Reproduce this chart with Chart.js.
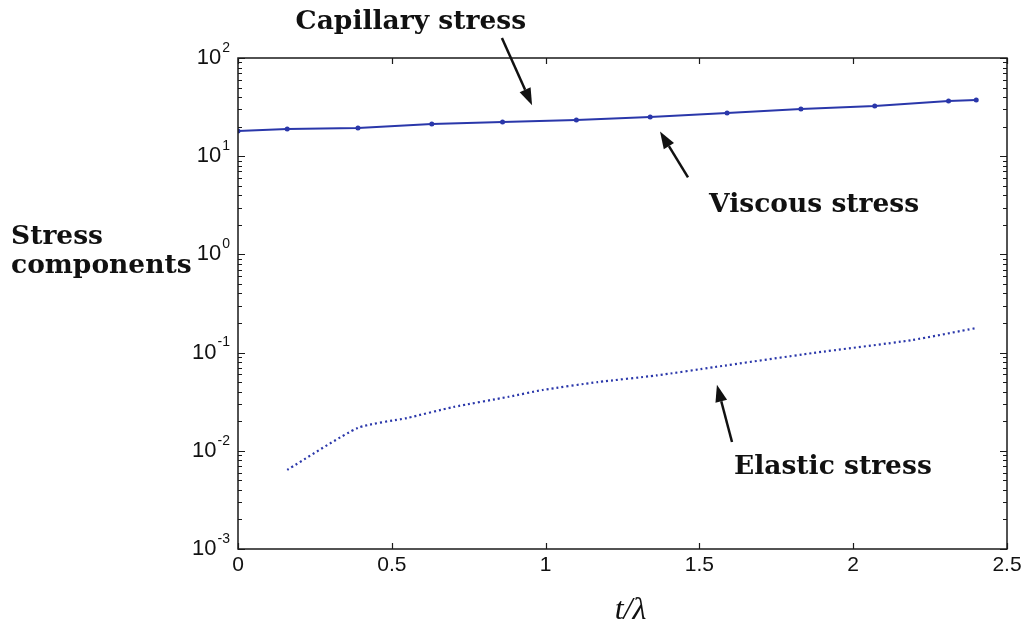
<!DOCTYPE html>
<html>
<head>
<meta charset="utf-8">
<script src="https://cdn.jsdelivr.net/npm/chart.js@4.4.1/dist/chart.umd.min.js"></script>
<style>
  html, body { margin: 0; padding: 0; background: #fff; }
  #wrap { width: 1027px; height: 628px; }
</style>
</head>
<body>
<div id="wrap"><canvas id="stressChart" width="1027" height="628"></canvas></div>
<script>
// values (t/lambda vs stress, log scale)
const tViscous = [0, 0.16, 0.39, 0.63, 0.86, 1.1, 1.34, 1.59, 1.83, 2.07, 2.31, 2.4];
const viscous = [18.1, 18.9, 19.4, 21.3, 22.3, 23.4, 25.1, 27.5, 30.2, 32.5, 36.5, 37.4];

const tElastic = [0.16, 0.39, 0.55, 0.7, 0.88, 0.99, 1.17, 1.36, 1.55, 1.87, 2.19, 2.4];
const elastic = [0.0064, 0.0171, 0.0216, 0.0279, 0.0355, 0.0416, 0.0501, 0.0585, 0.0713, 0.0991, 0.134, 0.178];

const xTicks = [0, 0.5, 1, 1.5, 2, 2.5];
const yExponents = [-3, -2, -1, 0, 1, 2];

// annotation text anchors and arrows, in data units
const notes = [
  { text: 'Capillary stress', x: 0.562, y: 230, tail: [0.858, 160], tip: [0.956, 33] },
  { text: 'Viscous stress', x: 1.873, y: 3.2, tail: [1.463, 6.1], tip: [1.372, 17.8] },
  { text: 'Elastic stress', x: 1.934, y: 0.0068, tail: [1.606, 0.0123], tip: [1.557, 0.047] }
];

const lineColor = '#2a37aa';
const serifFont = 'bold 26.5px "DejaVu Serif", serif';

function toPts(xs, ys) {
  return xs.map((x, i) => ({ x: x, y: ys[i] }));
}

const overlay = {
  id: 'overlay',
  afterDraw(chart) {
    const ctx = chart.ctx;
    const a = chart.chartArea;
    const x = chart.scales.x;
    const y = chart.scales.y;
    ctx.save();

    // axes box
    ctx.strokeStyle = '#1a1a1a';
    ctx.lineWidth = 1.5;
    ctx.strokeRect(a.left, a.top, a.right - a.left, a.bottom - a.top);

    // inward ticks
    ctx.lineWidth = 1.2;
    ctx.beginPath();
    xTicks.forEach(v => {
      const px = Math.round(x.getPixelForValue(v)) + 0.5;
      ctx.moveTo(px, a.bottom); ctx.lineTo(px, a.bottom - 6);
      ctx.moveTo(px, a.top); ctx.lineTo(px, a.top + 6);
    });
    yExponents.forEach(e => {
      for (let m = 1; m <= 9; m++) {
        const v = m * Math.pow(10, e);
        if (v > y.max * 1.0001) break;
        const py = Math.round(y.getPixelForValue(v)) + 0.5;
        const len = m === 1 ? 7 : 4;
        ctx.moveTo(a.left, py); ctx.lineTo(a.left + len, py);
        ctx.moveTo(a.right, py); ctx.lineTo(a.right - len, py);
      }
    });
    ctx.stroke();

    // y tick labels 10^n
    ctx.fillStyle = '#111';
    ctx.textBaseline = 'middle';
    yExponents.forEach(e => {
      const py = y.getPixelForValue(Math.pow(10, e));
      const sup = String(e);
      ctx.font = '14px "Liberation Sans", Arial, sans-serif';
      const ws = ctx.measureText(sup).width;
      const right = a.left - 8;
      ctx.textAlign = 'left';
      ctx.fillText(sup, right - ws, py - 10);
      ctx.font = '22px "Liberation Sans", Arial, sans-serif';
      ctx.textAlign = 'right';
      ctx.fillText('10', right - ws - 1, py);
    });

    // y title
    ctx.font = serifFont;
    ctx.textAlign = 'left';
    ctx.fillStyle = '#111';
    ctx.fillText('Stress', 11, 237);
    ctx.fillText('components', 11, 266);

    // x title
    ctx.font = 'italic 32px "Liberation Serif", serif';
    ctx.textAlign = 'center';
    ctx.fillText('t/\u03bb', (a.left + a.right) / 2 + 8, 611);

    // annotations
    notes.forEach(n => {
      ctx.font = serifFont;
      ctx.textAlign = 'center';
      ctx.fillStyle = '#111';
      ctx.fillText(n.text, x.getPixelForValue(n.x), y.getPixelForValue(n.y));
      const x0 = x.getPixelForValue(n.tail[0]), y0 = y.getPixelForValue(n.tail[1]);
      const x1 = x.getPixelForValue(n.tip[0]), y1 = y.getPixelForValue(n.tip[1]);
      const ang = Math.atan2(y1 - y0, x1 - x0);
      const hl = 17, hw = 6;
      const bx = x1 - hl * Math.cos(ang), by = y1 - hl * Math.sin(ang);
      ctx.strokeStyle = '#111';
      ctx.lineWidth = 2.5;
      ctx.beginPath();
      ctx.moveTo(x0, y0); ctx.lineTo(bx, by);
      ctx.stroke();
      ctx.beginPath();
      ctx.moveTo(x1, y1);
      ctx.lineTo(bx + hw * Math.sin(ang), by - hw * Math.cos(ang));
      ctx.lineTo(bx - hw * Math.sin(ang), by + hw * Math.cos(ang));
      ctx.closePath();
      ctx.fill();
    });

    ctx.restore();
  }
};

const ctx = document.getElementById('stressChart').getContext('2d');
new Chart(ctx, {
  type: 'line',
  data: {
    datasets: [{
      label: 'Viscous stress',
      data: toPts(tViscous, viscous),
      borderColor: lineColor,
      backgroundColor: lineColor,
      borderWidth: 2,
      pointRadius: 2.5,
      pointBorderWidth: 0,
      tension: 0
    }, {
      label: 'Elastic stress',
      data: toPts(tElastic, elastic),
      borderColor: lineColor,
      borderWidth: 2.2,
      borderDash: [2, 3],
      pointRadius: 0,
      tension: 0.2
    }]
  },
  options: {
    responsive: false,
    animation: false,
    layout: { padding: { top: 58, right: 20, left: 0, bottom: 0 } },
    plugins: { legend: { display: false }, tooltip: { enabled: false } },
    scales: {
      x: {
        type: 'linear',
        min: 0,
        max: 2.5,
        afterFit: s => { s.height = 79; },
        grid: { display: false, drawTicks: false },
        border: { display: false },
        ticks: {
          stepSize: 0.5,
          padding: 4,
          color: '#111',
          callback: v => String(v),
          font: { family: '"Liberation Sans", Arial, sans-serif', size: 21 }
        }
      },
      y: {
        type: 'logarithmic',
        min: 0.001,
        max: 100,
        afterFit: s => { s.width = 238; },
        grid: { display: false },
        border: { display: false },
        ticks: { display: false }
      }
    }
  },
  plugins: [overlay]
});
</script>
</body>
</html>
